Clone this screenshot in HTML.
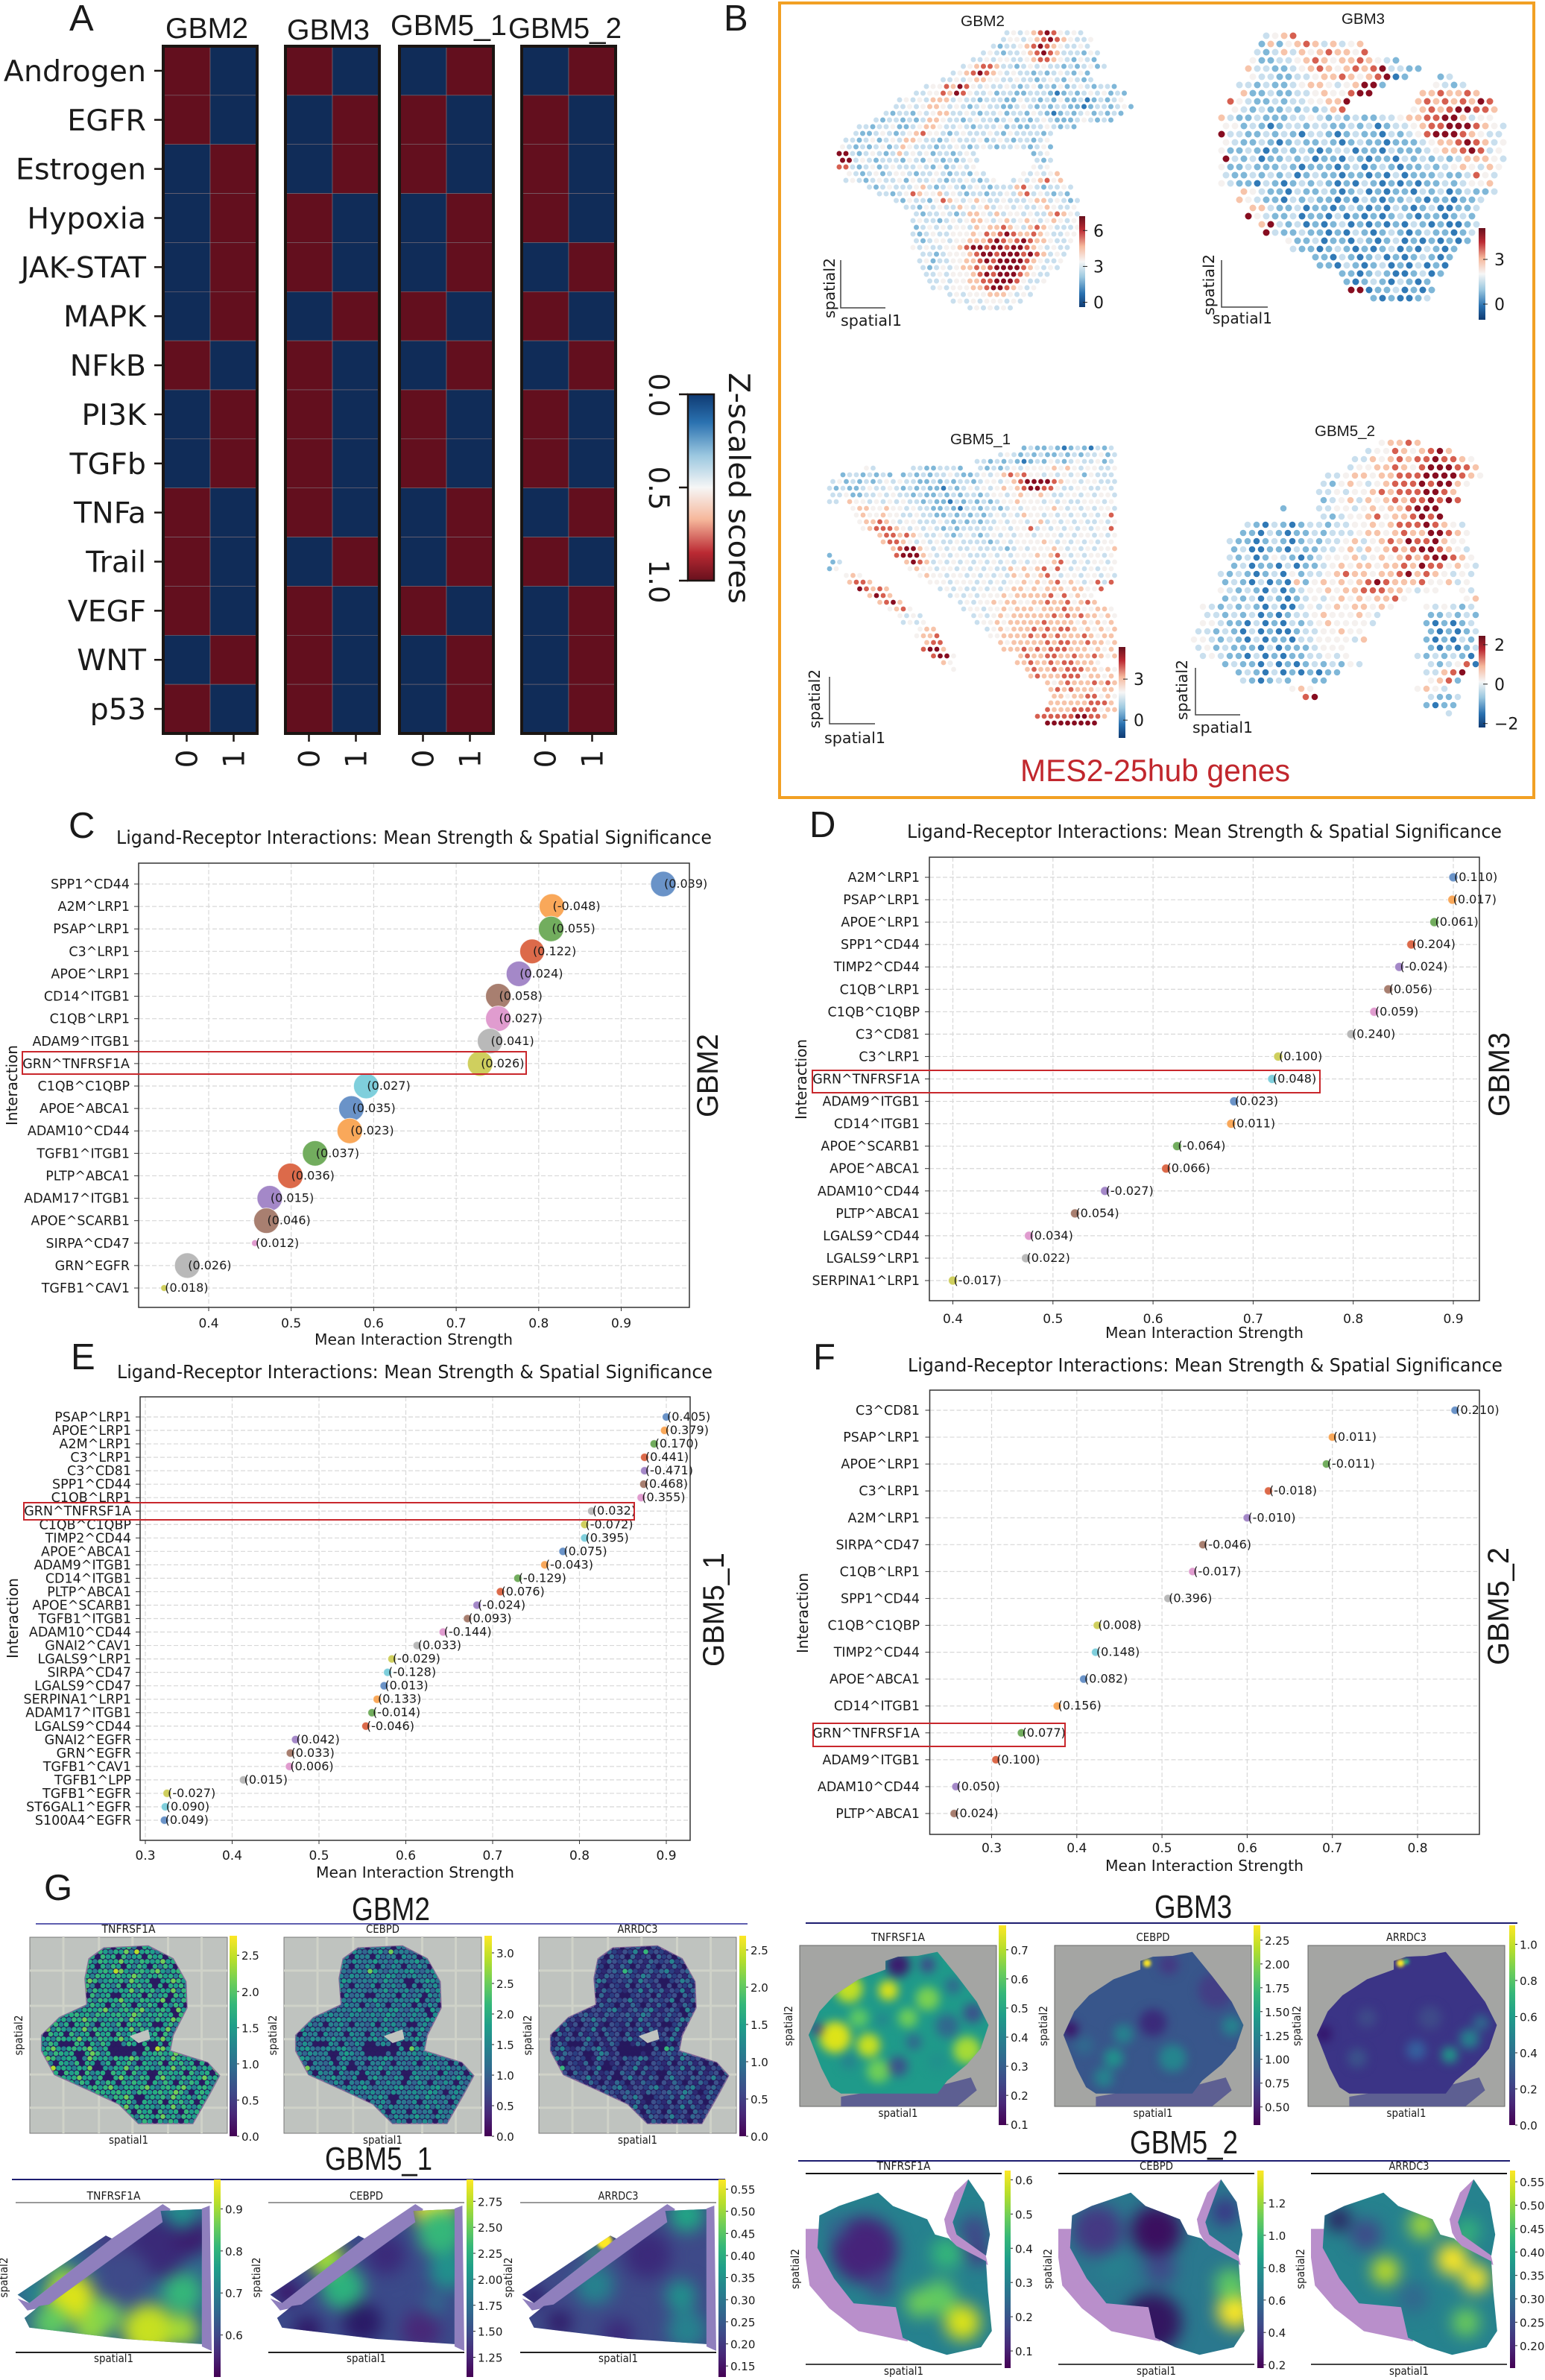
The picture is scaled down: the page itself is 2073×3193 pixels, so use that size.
<!DOCTYPE html>
<html lang="en">
<head>
<meta charset="utf-8">
<title>GBM multi-panel figure</title>
<style>
html,body{margin:0;padding:0;background:#fff;width:2073px;height:3193px;overflow:hidden}
svg{display:block}
text{fill:#1a1a1a}
</style>
</head>
<body>
<svg id="fig" xmlns="http://www.w3.org/2000/svg" width="2073" height="3193" viewBox="0 0 2073 3193">
<defs>
<linearGradient id="viridis" x1="0" y1="1" x2="0" y2="0">
<stop offset="0" stop-color="#440154"/><stop offset=".11" stop-color="#482878"/><stop offset=".22" stop-color="#3e4a89"/><stop offset=".33" stop-color="#31688e"/><stop offset=".44" stop-color="#26828e"/><stop offset=".55" stop-color="#1f9e89"/><stop offset=".66" stop-color="#35b779"/><stop offset=".77" stop-color="#6ece58"/><stop offset=".88" stop-color="#b5de2b"/><stop offset="1" stop-color="#fde725"/>
</linearGradient>
<linearGradient id="rdbuTopBlue" x1="0" y1="0" x2="0" y2="1">
<stop offset="0" stop-color="#0f3a72"/><stop offset=".15" stop-color="#2a71b0"/><stop offset=".33" stop-color="#9cc8e0"/><stop offset=".5" stop-color="#f6f6f6"/><stop offset=".67" stop-color="#f6b89c"/><stop offset=".85" stop-color="#bb2a33"/><stop offset="1" stop-color="#67101d"/>
</linearGradient>
<linearGradient id="rdbuTopRed" x1="0" y1="1" x2="0" y2="0">
<stop offset="0" stop-color="#0f3a72"/><stop offset=".15" stop-color="#2a71b0"/><stop offset=".33" stop-color="#9cc8e0"/><stop offset=".5" stop-color="#f6f6f6"/><stop offset=".67" stop-color="#f6b89c"/><stop offset=".85" stop-color="#bb2a33"/><stop offset="1" stop-color="#67101d"/>
</linearGradient>
<filter id="blur" x="-40%" y="-40%" width="180%" height="180%" color-interpolation-filters="sRGB"><feGaussianBlur stdDeviation="11"/></filter>
<filter id="blurMid" x="-40%" y="-40%" width="180%" height="180%" color-interpolation-filters="sRGB"><feGaussianBlur stdDeviation="6.5"/></filter>
<filter id="blurSharp" x="-60%" y="-60%" width="220%" height="220%" color-interpolation-filters="sRGB"><feGaussianBlur stdDeviation="2"/></filter>
</defs>
</svg>
<script>
/* ---------- Panel A data ---------- */
const pathways = ["Androgen","EGFR","Estrogen","Hypoxia","JAK-STAT","MAPK","NFkB","PI3K","TGFb","TNFa","Trail","VEGF","WNT","p53"];
const heatGBM2col0  = [1,1,0,0,0,0,1,0,0,1,1,1,0,1];
const heatGBM2col1  = [0,0,1,1,1,1,0,1,1,0,0,0,1,0];
const heatGBM3col0  = [1,0,0,1,1,0,1,1,1,1,0,1,1,1];
const heatGBM3col1  = [0,1,1,0,0,1,0,0,0,0,1,0,0,0];
const heatGBM51col0 = [0,1,1,0,0,1,0,1,1,0,0,1,0,0];
const heatGBM51col1 = [1,0,0,1,1,0,1,0,0,1,1,0,1,1];
const heatGBM52col0 = [0,1,1,1,0,1,0,1,1,0,1,0,0,0];
const heatGBM52col1 = [1,0,0,0,1,0,1,0,0,1,0,1,1,1];
const zscoreTicks = [0.0,0.5,1.0];

/* ---------- Panel C (GBM2) data ---------- */
const gbm2Pairs = ["SPP1^CD44","A2M^LRP1","PSAP^LRP1","C3^LRP1","APOE^LRP1","CD14^ITGB1","C1QB^LRP1","ADAM9^ITGB1","GRN^TNFRSF1A","C1QB^C1QBP","APOE^ABCA1","ADAM10^CD44","TGFB1^ITGB1","PLTP^ABCA1","ADAM17^ITGB1","APOE^SCARB1","SIRPA^CD47","GRN^EGFR","TGFB1^CAV1"];
const gbm2Strength = [0.951,0.816,0.815,0.792,0.776,0.751,0.751,0.741,0.729,0.591,0.573,0.571,0.529,0.499,0.474,0.470,0.456,0.374,0.346];
const gbm2Moran = ["0.039","-0.048","0.055","0.122","0.024","0.058","0.027","0.041","0.026","0.027","0.035","0.023","0.037","0.036","0.015","0.046","0.012","0.026","0.018"];
const gbm2Signif = [17,17,17,16.5,17,17,17,17,17,17,17,17,17,17,17,17,4.5,17,4.5];
const gbm2Ticks = [0.4,0.5,0.6,0.7,0.8,0.9];

/* ---------- Panel D (GBM3) data ---------- */
const gbm3Pairs = ["A2M^LRP1","PSAP^LRP1","APOE^LRP1","SPP1^CD44","TIMP2^CD44","C1QB^LRP1","C1QB^C1QBP","C3^CD81","C3^LRP1","GRN^TNFRSF1A","ADAM9^ITGB1","CD14^ITGB1","APOE^SCARB1","APOE^ABCA1","ADAM10^CD44","PLTP^ABCA1","LGALS9^CD44","LGALS9^LRP1","SERPINA1^LRP1"];
const gbm3Strength = [0.900,0.899,0.881,0.858,0.846,0.835,0.821,0.798,0.725,0.719,0.681,0.678,0.624,0.613,0.552,0.522,0.476,0.473,0.400];
const gbm3Moran = ["0.110","0.017","0.061","0.204","-0.024","0.056","0.059","0.240","0.100","0.048","0.023","0.011","-0.064","0.066","-0.027","0.054","0.034","0.022","-0.017"];
const gbm3Signif = [6,6,6,6,6,6,6,6,6,6,6,6,6,6,6,6,6,6,6];
const gbm3Ticks = [0.4,0.5,0.6,0.7,0.8,0.9];

/* ---------- Panel E (GBM5_1) data ---------- */
const gbm51Pairs = ["PSAP^LRP1","APOE^LRP1","A2M^LRP1","C3^LRP1","C3^CD81","SPP1^CD44","C1QB^LRP1","GRN^TNFRSF1A","C1QB^C1QBP","TIMP2^CD44","APOE^ABCA1","ADAM9^ITGB1","CD14^ITGB1","PLTP^ABCA1","APOE^SCARB1","TGFB1^ITGB1","ADAM10^CD44","GNAI2^CAV1","LGALS9^LRP1","SIRPA^CD47","LGALS9^CD47","SERPINA1^LRP1","ADAM17^ITGB1","LGALS9^CD44","GNAI2^EGFR","GRN^EGFR","TGFB1^CAV1","TGFB1^LPP","TGFB1^EGFR","ST6GAL1^EGFR","S100A4^EGFR"];
const gbm51Strength = [0.900,0.898,0.886,0.875,0.875,0.874,0.871,0.814,0.806,0.806,0.781,0.760,0.729,0.709,0.682,0.671,0.643,0.613,0.584,0.579,0.575,0.567,0.561,0.554,0.473,0.467,0.466,0.413,0.325,0.323,0.322];
const gbm51Moran = ["0.405","0.379","0.170","0.441","-0.471","0.468","0.355","0.032","-0.072","0.395","0.075","-0.043","-0.129","0.076","-0.024","0.093","-0.144","0.033","-0.029","-0.128","0.013","0.133","-0.014","-0.046","0.042","0.033","0.006","0.015","-0.027","0.090","0.049"];
const gbm51Signif = [5.5,5.5,5.5,5.5,5.5,5.5,5.5,5.5,5.5,5.5,5.5,5.5,5.5,5.5,5.5,5.5,5.5,5.5,5.5,5.5,5.5,5.5,5.5,5.5,5.5,5.5,5.5,5.5,5.5,5.5,5.5];
const gbm51Ticks = [0.3,0.4,0.5,0.6,0.7,0.8,0.9];

/* ---------- Panel F (GBM5_2) data ---------- */
const gbm52Pairs = ["C3^CD81","PSAP^LRP1","APOE^LRP1","C3^LRP1","A2M^LRP1","SIRPA^CD47","C1QB^LRP1","SPP1^CD44","C1QB^C1QBP","TIMP2^CD44","APOE^ABCA1","CD14^ITGB1","GRN^TNFRSF1A","ADAM9^ITGB1","ADAM10^CD44","PLTP^ABCA1"];
const gbm52Strength = [0.844,0.700,0.693,0.625,0.600,0.548,0.536,0.507,0.424,0.422,0.408,0.377,0.335,0.305,0.258,0.256];
const gbm52Moran = ["0.210","0.011","-0.011","-0.018","-0.010","-0.046","-0.017","0.396","0.008","0.148","0.082","0.156","0.077","0.100","0.050","0.024"];
const gbm52Signif = [5.5,5.5,5.5,5.5,5.5,5.5,5.5,5.5,5.5,5.5,5.5,5.5,5.5,5.5,5.5,5.5];
const gbm52Ticks = [0.3,0.4,0.5,0.6,0.7,0.8];

/* ---------- Panel B spot levels: "startColumn:levels" ---------- */
const spotsGBM2 = [
"25:343456764343","24:34434567654334","23:323345676543343","21:343233456765333243","20:3343443345665432432","18:3456653323434332323423",
"17:345676543433232343242","15:33434554433433234324323","13:34465764343343234232423432332","11:33446576433423322333212323434232","9:3434355534332333224332324223123234",
"8:334345543432343322343232332212332342","7:323324345533432334233243212323423232","5:323323235543323433234232343222343232","3:332334223455433432333423223343232","2:322343234564432343334324333323",
"1:3323423435543323433342343233234","0:43232342354333233432343233432342","0:773234323534342332343,29:234","0:773432333243243232343,29:323","0:663234234333432423434,29:434",
"1:432342344323343233243,27:434345","1:34323433424334323343234,26:34345645","4:3234333453234323432333564323343","6:33234654453432332334356343232","8:3243324654345433433345534323",
"10:33243433543453443433454334","11:3233432355435344343356543","11:3433234345543453454345434","11:2343434435455654356543334","11:3234334445465676556543344",
"11:323443445556765676554334","11:434334456776776776543433","12:3323444567767776765343","12:3423344556767777654334","12:323434556567777654343",
"13:3343444567677765433","13:334344556677764334","14:3434445567765434","16:3434445554343","17:34343444343","19:3434343"];
const spotsGBM3 = [
"5:3456","4:252456535345","4:3235354565546","3:42233456545565432","3:53322345654565673322","3:433223345565456712,24:23","2:33232234554345772,24:4323",
"2:522322334544677,22:5565565","1:64322323344557,22:565656576","1:4323223232356,21:4565677665","0:5322322233432323223345566775344","0:44232123323322323123345667776543",
"0:73322323213321232213234677765433","0:43223212322321232212223455676534","0:42232123232123312213222345567634","0:73231223231221321221323232355543","0:42232223212221231232122323454354",
"0:3223232312322122121312223223643","0:4322132123232121321212122323445","2:54322132232123121221323123223","2:5432213232212132122321221223","3:55322312212321213212311223","3:74322312213121212321221232",
"4:5732312123121212132121123","5:732232212132123212322123","7:422312213212312121212","8:3221232121231213212","10:2213212312123212","11:221321231213121","13:221232112312","14:2123213212","14:77,16:12231212","17:2121123"];
const spotsGBM51 = [
"29:23223212321323","25:343232322323233423","22:332323212324323433423","5:43,12:33223332,22:323234344445454344334","2:23323232,11:23232334322343456564434343424333",
"0:3423232343433223232332344345677776544344333","0:3232234334323232213234343454567766433443343","0:3342233434332322323233234434544543344343443","0:33,3:5443434343323221323232344544434343344434",
"3:4554454434332232133233234344445434343443","4:454454433433223232323434354434343434346","4:455654344333432323233434434534343433434","5:45666543434323233333443446343434343446",
"7:566565433432343234343443444343443434","8:56654343433433332343444454343434344","9:5677543434334333323434445434343445","0:2,10:677754343443334343444545643434434",
"0:23,11:57653434343434343434445643434434","0:24,12:4544344343434335454564643434344","2:454,13:454434434343435454564344344343","3:5665,15:4443444343434454545645434636",
"4:76565,16:3434334343455454555455446","6:5765,18:3434344454555556464544","7:5675,19:343445455445565564565","9:4564,20:34434454555455565544554",
"10:4343,21:3434545555556565655454","11:3434,22:344545555565555454545","13:455,23:34545556565665454545","13:4556,24:4455556565655565455","14:566,25:545555565665565545",
"14:6775,26:55565656665554545","15:6774,28:565566556556545","17:54,28:5565565665554","18:4,29:56556566655454","30:5655566645545","32:54565556565","33:5656555455","33:5545566454","33:5555556665","32:65556666455","31:66666677665","32:77777777"];
const spotsGBM52 = [
"21:45565","19:3446545675","18:33545656676654","17:344556546777665","15:334554556667777654","14:32454345666767754","14:3343445656667765","14:2345354565667676",
"10:2,14:33443454556777","14:32344564556767","6:3213212332334454566676543","5:22132122323334554565577654","4:322123212323345345657667544","4:231122132233453545656776543","4:3231243212344453454565677654",
"4:2312213122345455455657664543","3:32321231423345655455675654343","3:2321312152454545676555644534","3:4323213123445455666554344,30:43","3:232313212343454545564,30:45","1:4323232131134345455454,26:434323",
"1:33232312123345444543,26:223232","1:44322131213234544443,26:212123","0:3323213121123344544,26:212123","0:44323213122133444435,26:212132","0:34232221312223444,26:212123","1:34322131212233434,25:3232321",
"3:2322131212323243,26:323461","5:232131212122,26:33567","5:321232,13:22,26:4562","11:454,25:4543","12:67,26:3223","26:2122","28:3"];
const spotLevelColors = {1:"#3079b6",2:"#7fb7d8",3:"#c9dfee",4:"#f5f1ef",5:"#f7c4aa",6:"#d65f50",7:"#870d20"};

/* ---------- Panel B colour-bar ticks ---------- */
const bTicksGBM2 = [6,3,0];
const bTicksGBM3 = [3,0];
const bTicksGBM51 = [3,0];
const bTicksGBM52 = [2,0,-2];

/* ---------- Panel G colour-bar ticks ---------- */
const gTicksA = [0.0,0.5,1.0,1.5,2.0,2.5];
const gTicksB = [0.0,0.5,1.0,1.5,2.0,2.5,3.0];
const gTicksC = [0.6,0.7,0.8,0.9];
const gTicksD = [1.25,1.50,1.75,2.00,2.25,2.50,2.75];
const gTicksE = [0.15,0.20,0.25,0.30,0.35,0.40,0.45,0.50,0.55];
const gTicksF = [0.1,0.2,0.3,0.4,0.5,0.6,0.7];
const gTicksG = [0.50,0.75,1.00,1.25,1.50,1.75,2.00,2.25];
const gTicksH = [0.0,0.2,0.4,0.6,0.8,1.0];
const gTicksI = [0.1,0.2,0.3,0.4,0.5,0.6];
const gTicksJ = [0.2,0.4,0.6,0.8,1.0,1.2];
const gTicksK = [0.20,0.25,0.30,0.35,0.40,0.45,0.50,0.55];

/* ---------- helpers ---------- */
const SVGNS = "http://www.w3.org/2000/svg";
const fig = document.getElementById("fig");
const DJ = '"DejaVu Sans", sans-serif';
const LS = '"Liberation Sans", sans-serif';
function add(parent, tag, name, attrs) {
  const el = document.createElementNS(SVGNS, tag);
  
  
  for (const k in attrs) el.setAttribute(k, attrs[k]);
  parent.appendChild(el);
  return el;
}
function label(parent, name, x, y, str, o) {
  o = o || {};
  const a = {x: x, y: y, "font-family": o.font || DJ, "font-size": o.size || 16};
  if (o.anchor) a["text-anchor"] = o.anchor;
  if (o.fill) a.style = "fill:" + o.fill;
  if (o.rot !== undefined) a.transform = "rotate(" + o.rot + " " + x + " " + y + ")";
  if (o.len) { a.textLength = o.len; a.lengthAdjust = "spacingAndGlyphs"; }
  const el = add(parent, "text", name, a);
  el.textContent = str;
  return el;
}
function group(name, parent) { return add(parent || fig, "g", name, {}); }

/* ---------- panel letters ---------- */
const panelLetters = group("panel-letters");
[["A",93,41],["B",971,41],["C",92,1124],["D",1086,1123],["E",95,1837],["F",1091,1837],["G",59,2549]].forEach(function(p){
  label(panelLetters, "panel-letter-" + p[0].toLowerCase(), p[1], p[2], p[0], {font: LS, size: 49});
});

/* ---------- Panel A ---------- */
const panelA = group("panel-a-heatmap");
const heatRed = "#630f1e", heatBlue = "#102c58";
const heatTop = 62, heatBottom = 984;
const rowH = (heatBottom - heatTop) / pathways.length;
const rowY = function(i){ return heatTop + (i + 0.5) * rowH; };
const heatmapValueColor = function(v){ return v >= 0.5 ? heatRed : heatBlue; };
const heatPanels = [
  {name:"GBM2", l:219, w:126, c0:heatGBM2col0, c1:heatGBM2col1, tx:222, ty:51, tl:111},
  {name:"GBM3", l:383, w:126, c0:heatGBM3col0, c1:heatGBM3col1, tx:385, ty:53, tl:111},
  {name:"GBM5_1", l:536, w:126, c0:heatGBM51col0, c1:heatGBM51col1, tx:524, ty:47, tl:156},
  {name:"GBM5_2", l:700, w:126, c0:heatGBM52col0, c1:heatGBM52col1, tx:682, ty:51, tl:152}
];
heatPanels.forEach(function(p){
  const g = group("heatmap-" + p.name.toLowerCase().replace("_","-"), panelA);
  pathways.forEach(function(path, i){
    [p.c0, p.c1].forEach(function(col, j){
      add(g, "rect", "heat-cell", {x: p.l + j * p.w / 2, y: heatTop + i * rowH, width: p.w / 2, height: rowH, fill: heatmapValueColor(col[i]), stroke: "#7d6f78", "stroke-width": 0.6});
    });
  });
  add(g, "rect", "heatmap-frame", {x: p.l, y: heatTop, width: p.w, height: heatBottom - heatTop, fill: "none", stroke: "#1b1512", "stroke-width": 4});
  [0,1].forEach(function(j){
    const cx = p.l + (j + 0.5) * p.w / 2;
    add(g, "line", "x-tick", {x1: cx, x2: cx, y1: heatBottom, y2: 995, stroke: "#1b1512", "stroke-width": 2.5});
    label(g, "x-tick-label", cx + 14, 1018, String(j), {size: 39, anchor: "middle", rot: -90});
  });
  label(g, "heatmap-title", p.tx, p.ty, p.name, {font: LS, size: 39, len: p.tl});
});
pathways.forEach(function(path, i){
  add(panelA, "line", "y-tick", {x1: 207, x2: 217, y1: rowY(i), y2: rowY(i), stroke: "#1b1512", "stroke-width": 2.5});
  label(panelA, "pathway-label", 196, rowY(i) + 14, path, {size: 39.5, anchor: "end"});
});
const zcb = group("zscore-colorbar", panelA);
add(zcb, "rect", "zscore-colorbar-gradient", {x: 923, y: 529, width: 35, height: 250, fill: "url(#rdbuTopBlue)", stroke: "#1b1512", "stroke-width": 2.5});
zscoreTicks.forEach(function(t){
  const y = 529 + t * 250;
  add(zcb, "line", "colorbar-tick", {x1: 911, x2: 923, y1: y, y2: y, stroke: "#1b1512", "stroke-width": 2.5});
  label(zcb, "colorbar-tick-label", 871, y + 1, t.toFixed(1), {size: 37, anchor: "middle", rot: 90});
});
label(zcb, "colorbar-title", 978, 655, "Z-scaled scores", {size: 39, anchor: "middle", rot: 90, len: 310});

/* ---------- Panel B ---------- */
const panelB = group("panel-b-spatial-maps");
add(panelB, "rect", "panel-b-border", {x: 1046, y: 4, width: 1012, height: 1066, fill: "none", stroke: "#f2a024", "stroke-width": 4});
const spotMaps = [
  {name:"GBM2", rows:spotsGBM2, x:1126, y:44, dx:9, dy:9, r:3.5, title:[1289,35,59],
   cb:[1448,290,8,122,-0.4,7.2,bTicksGBM2], cbx:1467, sb:[1128,413,60,64], s1:[1128,437,82], s2:[1120,427,81]},
  {name:"GBM3", rows:spotsGBM3, x:1639, y:48, dx:12, dy:11, r:4.5, title:[1800,32,58],
   cb:[1984,306,9,123,-1.05,5.1,bTicksGBM3], cbx:2005, sb:[1639,412,62,63], s1:[1627,434,80], s2:[1629,423,82]},
  {name:"GBM5_1", rows:spotsGBM51, x:1113, y:601, dx:9, dy:9, r:3.4, title:[1275,596,81],
   cb:[1501,868,9,122,-1.3,5.35,bTicksGBM51], cbx:1521, sb:[1113,971,61,63], s1:[1106,997,82], s2:[1100,977,79]},
  {name:"GBM5_2", rows:spotsGBM52, x:1602, y:594, dx:12, dy:11, r:4.3, title:[1764,585,81],
   cb:[1984,853,9,123,-2.2,2.45,bTicksGBM52], cbx:2005, sb:[1604,959,60,63], s1:[1600,983,81], s2:[1593,966,81]}
];
spotMaps.forEach(function(m){
  const slug = m.name.toLowerCase().replace("_","-");
  const g = group("spatial-map-" + slug, panelB);
  m.rows.forEach(function(row, r){
    row.split(",").forEach(function(seg){
      const parts = seg.split(":");
      const start = parseInt(parts[0], 10);
      parts[1].split("").forEach(function(ch, k){
        add(g, "circle", "spot", {cx: m.x + (start + k) * m.dx + (r % 2 ? m.dx / 2 : 0), cy: m.y + r * m.dy, r: m.r, fill: spotLevelColors[ch]});
      });
    });
  });
  label(g, "map-title", m.title[0], m.title[1], m.name, {font: LS, size: 20, len: m.title[2]});
  const sb = m.sb;
  add(g, "polyline", "scale-axes", {points: sb[0] + "," + (sb[1] - sb[3]) + " " + sb[0] + "," + sb[1] + " " + (sb[0] + sb[2]) + "," + sb[1], fill: "none", stroke: "#444", "stroke-width": 1.5});
  label(g, "spatial1-label", m.s1[0], m.s1[1], "spatial1", {size: 20, len: m.s1[2]});
  label(g, "spatial2-label", m.s2[0], m.s2[1], "spatial2", {size: 20, rot: -90, len: m.s2[2]});
  const c = m.cb;
  add(g, "rect", "map-colorbar", {x: c[0], y: c[1], width: c[2], height: c[3], fill: "url(#rdbuTopRed)"});
  c[6].forEach(function(t){
    const y = c[1] + c[3] * (c[5] - t) / (c[5] - c[4]);
    add(g, "line", "colorbar-tick", {x1: c[0] + c[2] - 3, x2: c[0] + c[2] + 3, y1: y, y2: y, stroke: "#222", "stroke-width": 1});
    label(g, "colorbar-tick-label", m.cbx, y + 8, String(t).replace("-","\u2212"), {size: 22});
  });
});
label(panelB, "panel-b-caption", 1369, 1048, "MES2-25hub genes", {font: LS, size: 42, fill: "#c1272d", len: 362});

/* ---------- Panels C-F ---------- */
const tab10 = ["#6a93c8","#f9a85a","#72ad5e","#dc6a4a","#a488c8","#a87f70","#e09ccf","#b9b9b9","#cfcf5e","#7fcfdc"];
const dotCharts = [
  {id:"c", name:"GBM2", pairs:gbm2Pairs, xs:gbm2Strength, vals:gbm2Moran, sizes:gbm2Signif, ticks:gbm2Ticks,
   box:[186,925,1158,1754], x0:280, v0:0.4, k:1107, y0:1186, y1:1728, lx:174, tickY:1781,
   title:[156,1132,799], xl:[422,1804,266], inter:[23,1510,108], side:[963,1499,112], red:[30,1411,676,30], fs:17.5},
  {id:"d", name:"GBM3", pairs:gbm3Pairs, xs:gbm3Strength, vals:gbm3Moran, sizes:gbm3Signif, ticks:gbm3Ticks,
   box:[1247,1985,1150,1745], x0:1278.5, v0:0.4, k:1343, y0:1177, y1:1718, lx:1234, tickY:1775,
   title:[1217,1124,798], xl:[1483,1795,266], inter:[1082,1502,108], side:[2025,1498,113], red:[1090,1436,681,30], fs:17.5},
  {id:"e", name:"GBM5_1", pairs:gbm51Pairs, xs:gbm51Strength, vals:gbm51Moran, sizes:gbm51Signif, ticks:gbm51Ticks,
   box:[188,926,1874,2469], x0:195, v0:0.3, k:1165, y0:1901, y1:2442, lx:176, tickY:2495,
   title:[157,1849,799], xl:[424,2519,266], inter:[24,2225,108], side:[971,2236,153], red:[32,2016,819,23], fs:17.5},
  {id:"f", name:"GBM5_2", pairs:gbm52Pairs, xs:gbm52Strength, vals:gbm52Moran, sizes:gbm52Signif, ticks:gbm52Ticks,
   box:[1247.5,1985,1865,2461], x0:1330.5, v0:0.3, k:1143, y0:1892, y1:2433, lx:1234, tickY:2485,
   title:[1218,1840,798], xl:[1483,2510,266], inter:[1084,2218,108], side:[2024,2234,158], red:[1091,2312,338,31], fs:17.5}
];
dotCharts.forEach(function(ch){
  const g = group("dot-chart-" + ch.id);
  const xAxis = function(v){ return ch.x0 + (v - ch.v0) * ch.k; };
  const yAxis = function(i){ return ch.y0 + (ch.y1 - ch.y0) * i / (ch.pairs.length - 1); };
  const b = ch.box;
  ch.ticks.forEach(function(t){
    add(g, "line", "x-gridline", {x1: xAxis(t), x2: xAxis(t), y1: b[2], y2: b[3], stroke: "#d8d8d8", "stroke-width": 1.2, "stroke-dasharray": "6 3"});
    add(g, "line", "x-tick", {x1: xAxis(t), x2: xAxis(t), y1: b[3], y2: b[3] + 5, stroke: "#333", "stroke-width": 1});
    label(g, "x-tick-label", xAxis(t), ch.tickY, t.toFixed(1), {size: 17, anchor: "middle"});
  });
  ch.pairs.forEach(function(p, i){
    add(g, "line", "y-gridline", {x1: b[0], x2: b[1], y1: yAxis(i), y2: yAxis(i), stroke: "#d8d8d8", "stroke-width": 1.2, "stroke-dasharray": "6 3"});
    add(g, "line", "y-tick", {x1: b[0] - 6, x2: b[0], y1: yAxis(i), y2: yAxis(i), stroke: "#333", "stroke-width": 1});
    label(g, "interaction-label", ch.lx, yAxis(i) + 6, p, {size: ch.fs, anchor: "end"});
  });
  ch.pairs.forEach(function(p, i){
    add(g, "circle", "interaction-point", {cx: xAxis(ch.xs[i]), cy: yAxis(i), r: ch.sizes[i], fill: tab10[i % 10], stroke: "#ffffff", "stroke-width": 1, "stroke-opacity": 0.7});
  });
  ch.pairs.forEach(function(p, i){
    label(g, "point-value-label", xAxis(ch.xs[i]) + 1, yAxis(i) + 5, "(" + ch.vals[i] + ")", {size: 16});
  });
  add(g, "rect", "plot-frame", {x: b[0], y: b[2], width: b[1] - b[0], height: b[3] - b[2], fill: "none", stroke: "#333", "stroke-width": 1.5});
  add(g, "rect", "grn-tnfrsf1a-highlight", {x: ch.red[0], y: ch.red[1], width: ch.red[2], height: ch.red[3], fill: "none", stroke: "#c9272c", "stroke-width": 2});
  label(g, "chart-title", ch.title[0], ch.title[1], "Ligand-Receptor Interactions: Mean Strength & Spatial Significance", {size: 25, len: ch.title[2]});
  label(g, "x-axis-title", ch.xl[0], ch.xl[1], "Mean Interaction Strength", {size: 20, len: ch.xl[2]});
  label(g, "y-axis-title", ch.inter[0], ch.inter[1], "Interaction", {size: 20, rot: -90, len: ch.inter[2]});
  label(g, "sample-label", ch.side[0], ch.side[1], ch.name, {font: LS, size: 40, rot: -90, len: ch.side[2]});
});

/* ---------- Panel G ---------- */
const panelG = group("panel-g-gene-maps");
const genes = ["TNFRSF1A","CEBPD","ARRDC3"];
const gbm2GenePalettes = [
 ["#2b1a62","#2a6f8e","#26828e","#1f9e89","#27ad81","#35b779","#6ece58","#b5de2b"],
 ["#2b1a62","#2b3f80","#31688e","#2a788e","#26828e","#1f8f8c","#1f9e89","#6ece58"],
 ["#26185e","#26185e","#2d2a72","#2b3f80","#3b528b","#31688e","#26828e","#35b779"]];
const gbm2Poly = [[30,11],[37.5,5.5],[60,4.5],[72.5,11],[79,22.7],[79.5,36],[72.5,50],[71,58],[90,64],[96,70.6],[91,80],[82.5,95],[55,95],[45,85],[30,78],[12.5,70],[6,58],[6,50],[15,41],[29,34.5],[28,21]];
const gbm2Hole = [[50.5,50.4],[60,47],[61,52],[55,54]];
const gbm2LowZones = [[44,57,4],[49,58,3.5],[55,57,2.5],[63,55,2.5],[70,33,2],[73,38,2],[66,44,2],[34,66,2.5],[25,60,1.8],[55,82,2],[62,70,2],[20,55,1.8],[64,22,2],[45,30,1.6],[82,78,1.8],[40,72,2]];
const gbm3Poly = [[43.6,9.6],[50,7],[60,6.5],[70,4],[80,19],[90,35],[96,49.5],[92,64],[85,74],[75,84],[70,92],[21,92],[16,88],[11,76],[4.5,55.6],[10,41],[17.5,31],[30,21],[43.6,15]];
const gbm3Strip = [[21,100],[21,94],[35,91],[62,90],[87,82],[90,90],[80,100]];
const gbm51Poly = [[4.5,77],[12,69],[17,68],[75,13],[74,5.5],[95,4.4],[95,94.5],[55,91],[7,83.5]];
const gbm51Poly2 = [[1,61.5],[46,22],[49,24],[7,67]];
const gbm51Purple = [[[1,64],[7,67],[49,24],[75,1],[79,4.4],[75,13],[17,69],[6,72]],[[95,4],[99,2],[100,99],[95,96]]];
const gbm52Poly = [[7,22],[17,17],[37,10],[44.5,17],[62,24],[66,32],[73,34],[77,38],[92,46],[93,62],[95,82.5],[89.5,91],[72,95],[59.5,91],[49.5,86],[46,70],[24.5,68],[14.5,55],[6,39]];
const gbm52Poly2 = [[83,3],[91,15],[94,32],[92,43],[77,32],[75,25.5]];
const gbm52Purple = [[[0,29],[12,29],[25,60],[52,65],[52,88],[27,82.6],[12,70.6],[2,58.7],[0,44]],[[70.7,24],[76,10],[83,3],[93,48],[77,40],[72,31]]];
const dotPatternLevels = [
 "45342543453465243534254345346524353425434534652435342543","34254645234352643425346523435264342534652343526434253465",
 "04352404352043250435240435204325043524043520432504352404","52436253243625343243625324362734324362532436253432436253",
 "34052340534052340534052340534052340534052340534052340534","63425434634254346342543463425434634254346342543463425434",
 "30425304253042530425304253042530425304253042530425304253","43563245356324535632453563245356324537632453563245356324"];
const blobSets = {
 gbm3:[
  {base:"#1f9a8a",f:"blurMid",b:[[25,27,7,"#c2df23"],[45,28,5,"#dde318"],[18,57,8,"#dde318"],[35,62,6,"#c7e020"],[85,65,7,"#a5db36"],[65,33,6,"#7ad151"],[55,45,5,"#6ece58"],[30,45,5,"#5ec962"],[40,78,6,"#6ece58"],[50,12,6,"#3b1c6e"],[65,12,4,"#3e4a89"],[50,75,5,"#3b528b"],[75,50,6,"#31688e"],[88,42,5,"#3b528b"],[9,52,3,"#443983"],[58,60,4,"#31688e"],[42,46,3,"#26828e"],[25,72,4,"#26828e"],[70,72,5,"#21918c"],[78,25,4,"#31688e"]]},
  {base:"#38568b",f:"blurMid",b:[[47,11,2,"#fde725","s"],[35,55,5,"#26828e"],[30,70,5,"#21918c"],[60,70,7,"#25858e"],[90,50,5,"#26828e"],[15,62,5,"#31688e"],[50,48,7,"#3b2a7a"],[8,52,4,"#3a0f66"],[82,28,9,"#433e85"],[25,82,5,"#26828e"],[58,12,5,"#443983"]]},
  {base:"#3b3486",f:"blurMid",b:[[47,11,2,"#fde725","s"],[50,10,1.5,"#35b779","s"],[82,58,5,"#26828e"],[72,68,4,"#1f9e89"],[55,65,5,"#35609e"],[25,70,5,"#3b528b"],[30,45,5,"#3e4a89"],[8,55,4,"#33126a"],[62,45,6,"#3e4a89"],[88,48,4,"#2f6a8e"]]}],
 gbm51:[
  {base:"#31688e",f:"blur",b:[[72,30,16,"#3a2a78"],[90,22,10,"#3b1c6e"],[47,28,12,"#443983"],[28,63,12,"#dde318"],[45,75,9,"#7ad151"],[18,80,9,"#5ec962"],[68,85,13,"#c7e020"],[85,85,8,"#a5db36"],[38,85,8,"#90d743"],[55,50,14,"#3e4a89"],[85,60,10,"#35b779"],[85,7,8,"#21918c"],[22,47,5,"#6ece58"],[38,30,7,"#3b528b"],[10,60,5,"#21918c"]]},
  {base:"#3b4a8a",f:"blur",b:[[85,5,11,"#fde725"],[88,20,12,"#35b779"],[92,45,10,"#21918c"],[30,38,9,"#a5db36"],[38,57,11,"#2db27d"],[10,60,6,"#3a0f66"],[48,80,10,"#2a1a66"],[20,85,7,"#2e1665"],[78,85,10,"#482878"],[60,35,10,"#3b2a7a"],[85,68,6,"#31688e"]]},
  {base:"#3e4a89",f:"blur",b:[[85,8,9,"#21a685"],[43,26,4,"#fde725","s"],[38,33,4,"#35b779"],[7,63,5,"#2b1165"],[38,55,10,"#26828e"],[82,62,8,"#21918c"],[85,85,10,"#26828e"],[50,88,8,"#3b2a7a"],[65,35,12,"#3b2a7a"],[20,80,6,"#2e1665"]]}],
 gbm52:[
  {base:"#26818e",f:"blur",b:[[30,40,17,"#46237a"],[15,28,6,"#31688e"],[86,30,8,"#3e4a89"],[88,42,6,"#443983"],[72,42,8,"#35b779"],[68,65,9,"#5ec962"],[80,78,9,"#dde318"],[58,68,7,"#6ece58"],[38,58,7,"#3e4a89"]]},
  {base:"#2a788e",f:"blur",b:[[50,30,13,"#3b0f5f"],[52,50,8,"#3e4a89"],[48,78,15,"#331660"],[20,30,13,"#443983"],[90,72,9,"#fde725"],[88,58,8,"#5ec962"],[85,20,7,"#3b3486"],[28,48,7,"#26828e"]]},
  {base:"#26828e",f:"blur",b:[[72,45,8,"#fde725"],[84,55,7,"#fde725"],[57,27,7,"#a5db36"],[38,51,7,"#c2df23"],[79,78,7,"#6ece58"],[14,24,6,"#2c1a5e"],[52,65,8,"#31688e"],[80,30,6,"#35b779"],[28,32,8,"#3e4a89"]]}]
};
function toPts(poly, m) {
  return poly.map(function(p){ return (m.x + p[0] / 100 * m.w).toFixed(1) + "," + (m.y + p[1] / 100 * m.h).toFixed(1); }).join(" ");
}
let clipCount = 0;
function drawBlobMap(g, m, polys, set, stripes) {
  const id = "clip" + (clipCount++);
  const defs = add(g, "clipPath", "tissue-clip", {id: id});
  polys.forEach(function(poly){ add(defs, "polygon", "tissue-clip-shape", {points: toPts(poly, m)}); });
  stripes.forEach(function(s){ add(g, "polygon", "histology-tissue", {points: toPts(s.poly, m), fill: s.fill}); });
  const c = add(g, "g", "expression-surface", {"clip-path": "url(#" + id + ")"});
  add(c, "rect", "expression-base", {x: m.x, y: m.y, width: m.w, height: m.h, fill: set.base});
  const bl = add(c, "g", "expression-blobs", {filter: "url(#" + set.f + ")"});
  const sh = add(c, "g", "expression-hotspots", {filter: "url(#blurSharp)"});
  set.b.forEach(function(b){
    add(b[4] ? sh : bl, "circle", "expression-blob", {cx: m.x + b[0] / 100 * m.w, cy: m.y + b[1] / 100 * m.h, r: b[2] / 100 * m.w, fill: b[3]});
  });
}
function drawColorbar(g, c) {
  add(g, "rect", "gene-colorbar", {x: c.x, y: c.y, width: c.w, height: c.h, fill: "url(#viridis)"});
  c.ticks.forEach(function(t){
    const y = c.y + c.h * (c.max - t) / (c.max - c.min);
    if (y < c.y - 1 || y > c.y + c.h + 1) return;
    add(g, "line", "colorbar-tick", {x1: c.x + c.w, x2: c.x + c.w + 3, y1: y, y2: y, stroke: "#222", "stroke-width": 1});
    label(g, "colorbar-tick-label", c.x + c.w + 6, y + 6, t.toFixed(c.dec), {size: 15});
  });
}
const geneRows = [
 {name:"GBM2", title:[472,2576,105], line:[48,1003,2581,"#5f5fb0"], y:2599, h:263, subY:2593, s1Y:2876, s2X:30,
  maps:[40,381,723], w:265,
  cbs:[{x:308,w:10,min:0,max:2.77,ticks:gTicksA,dec:1},{x:650,w:10,min:0,max:3.28,ticks:gTicksB,dec:1},{x:992,w:9,min:0,max:2.69,ticks:gTicksA,dec:1}], cbY:2597, cbH:269, s2Off:-10, kind:"dots"},
 {name:"GBM5_1", title:[436,2911,144], line:[16,973,2924,"#1d1d70"], y:2955, h:201, subY:2951, s1Y:3169, s2X:10,
  maps:[21,360,698], w:263,
  cbs:[{x:287,w:9,min:0.5,max:0.97,ticks:gTicksC,dec:1},{x:626,w:9,min:1.06,max:2.96,ticks:gTicksD,dec:2},{x:964,w:10,min:0.125,max:0.572,ticks:gTicksE,dec:2}], cbY:2924, cbH:265, s2Off:-11, kind:"gbm51"},
 {name:"GBM3", title:[1549,2573,104], line:[1081,2036,2580,"#1d1d70"], y:2610, h:216, subY:2604, s1Y:2840, s2X:1061,
  maps:[1073,1415,1755], w:264,
  cbs:[{x:1340,w:10,min:0.098,max:0.784,ticks:gTicksF,dec:1},{x:1682,w:9,min:0.31,max:2.405,ticks:gTicksG,dec:2},{x:2025,w:8,min:0,max:1.105,ticks:gTicksH,dec:1}], cbY:2583, cbH:268, s2Off:-10, kind:"gbm3"},
 {name:"GBM5_2", title:[1516,2889,145], line:[1071,2026,2899,"#1d1d70"], y:2916, h:256, subY:2911, s1Y:3186, s2X:1072,
  maps:[1081,1420,1759], w:263,
  cbs:[{x:1348,w:8,min:0.05,max:0.627,ticks:gTicksI,dec:1},{x:1687,w:8.5,min:0.18,max:1.4,ticks:gTicksJ,dec:1},{x:2026,w:7,min:0.152,max:0.574,ticks:gTicksK,dec:2}], cbY:2912, cbH:265, s2Off:-9, kind:"gbm52"}
];
geneRows.forEach(function(row){
  const g = group("gene-row-" + row.name.toLowerCase().replace("_","-"), panelG);
  label(g, "gene-row-title", row.title[0], row.title[1], row.name, {font: LS, size: 44, len: row.title[2]});
  add(g, "line", "gene-row-rule", {x1: row.line[0], x2: row.line[1], y1: row.line[2], y2: row.line[2], stroke: row.line[3], "stroke-width": 2});
  row.maps.forEach(function(x, i){
    const m = {x: x, y: row.y, w: row.w, h: row.h};
    const mg = group("gene-map-" + genes[i].toLowerCase(), g);
    if (row.kind === "dots") {
      add(mg, "rect", "map-background", {x: m.x, y: m.y, width: m.w, height: m.h, fill: "#bfc3bf", stroke: "#777", "stroke-width": 1});
      [17,35,52,70,87].forEach(function(p){
        add(mg, "line", "slide-gridline", {x1: m.x + p / 100 * m.w, x2: m.x + p / 100 * m.w, y1: m.y, y2: m.y + m.h, stroke: "#cfd2c8", "stroke-width": 3});
        add(mg, "line", "slide-gridline", {x1: m.x, x2: m.x + m.w, y1: m.y + p / 100 * m.h, y2: m.y + p / 100 * m.h, stroke: "#cfd2c8", "stroke-width": 3});
      });
      add(mg, "polygon", "tissue-underlay", {points: toPts(gbm2Poly, m), fill: "#271a5e", stroke: "#8a6a9a", "stroke-width": 2});
      const id = "clip" + (clipCount++);
      const cp = add(mg, "clipPath", "tissue-clip", {id: id});
      add(cp, "polygon", "tissue-clip-shape", {points: toPts(gbm2Poly, m)});
      const dots = add(mg, "g", "expression-spots", {"clip-path": "url(#" + id + ")"});
      const dx = 7, dy = 6.5;
      const palette = gbm2GenePalettes[i];
      for (let yy = 0; yy * dy < m.h; yy++) {
        const rowStr = dotPatternLevels[yy % dotPatternLevels.length];
        for (let xx = 0; xx * dx < m.w; xx++) {
          const cx = m.x + xx * dx + (yy % 2 ? dx / 2 : 0);
          const cy = m.y + yy * dy;
          let lv = parseInt(rowStr.charAt((xx + yy * 3) % rowStr.length), 10);
          gbm2LowZones.forEach(function(z){
            const zx = m.x + z[0] / 100 * m.w, zy = m.y + z[1] / 100 * m.h, zr = z[2] / 100 * m.w;
            if ((cx - zx) * (cx - zx) + (cy - zy) * (cy - zy) < zr * zr) lv = 0;
          });
          add(dots, "circle", "expression-spot", {cx: cx, cy: cy, r: 3.3, fill: palette[lv]});
        }
      }
      add(mg, "polygon", "tissue-hole", {points: toPts(gbm2Hole, m), fill: "#bfc3bf"});
    } else if (row.kind === "gbm3") {
      add(mg, "rect", "map-background", {x: m.x, y: m.y, width: m.w, height: m.h, fill: "#a4a5a3", stroke: "#666", "stroke-width": 1});
      drawBlobMap(mg, m, [gbm3Poly], blobSets.gbm3[i], [{poly: gbm3Strip, fill: "#5d5f92"}]);
    } else if (row.kind === "gbm51") {
      add(mg, "rect", "map-background", {x: m.x, y: m.y, width: m.w, height: m.h, fill: "#ffffff"});
      add(mg, "line", "map-top-border", {x1: m.x, x2: m.x + m.w, y1: m.y, y2: m.y, stroke: "#999", "stroke-width": 2});
      add(mg, "line", "map-bottom-border", {x1: m.x, x2: m.x + m.w, y1: m.y + m.h, y2: m.y + m.h, stroke: "#222", "stroke-width": 2});
      drawBlobMap(mg, m, [gbm51Poly, gbm51Poly2], blobSets.gbm51[i], gbm51Purple.map(function(p){ return {poly: p, fill: "#8f7fbd"}; }));
    } else {
      add(mg, "rect", "map-background", {x: m.x, y: m.y, width: m.w, height: m.h, fill: "#ffffff"});
      add(mg, "line", "map-top-border", {x1: m.x, x2: m.x + m.w, y1: m.y, y2: m.y, stroke: "#111", "stroke-width": 2});
      add(mg, "line", "map-bottom-border", {x1: m.x, x2: m.x + m.w, y1: m.y + m.h, y2: m.y + m.h, stroke: "#444", "stroke-width": 2});
      drawBlobMap(mg, m, [gbm52Poly, gbm52Poly2], blobSets.gbm52[i], gbm52Purple.map(function(p){ return {poly: p, fill: "#b98fcb"}; }));
    }
    label(mg, "gene-title", m.x + m.w / 2, row.subY, genes[i], {size: 15, anchor: "middle", len: genes[i].length * 9});
    label(mg, "spatial1-label", m.x + m.w / 2, row.s1Y, "spatial1", {size: 15, anchor: "middle", len: 53});
    label(mg, "spatial2-label", m.x + row.s2Off, m.y + m.h / 2, "spatial2", {size: 15, anchor: "middle", rot: -90, len: 54});
    const c = row.cbs[i];
    drawColorbar(mg, {x: c.x, y: row.cbY, w: c.w, h: row.cbH, min: c.min, max: c.max, ticks: c.ticks, dec: c.dec});
  });
});
</script>
</body>
</html>
